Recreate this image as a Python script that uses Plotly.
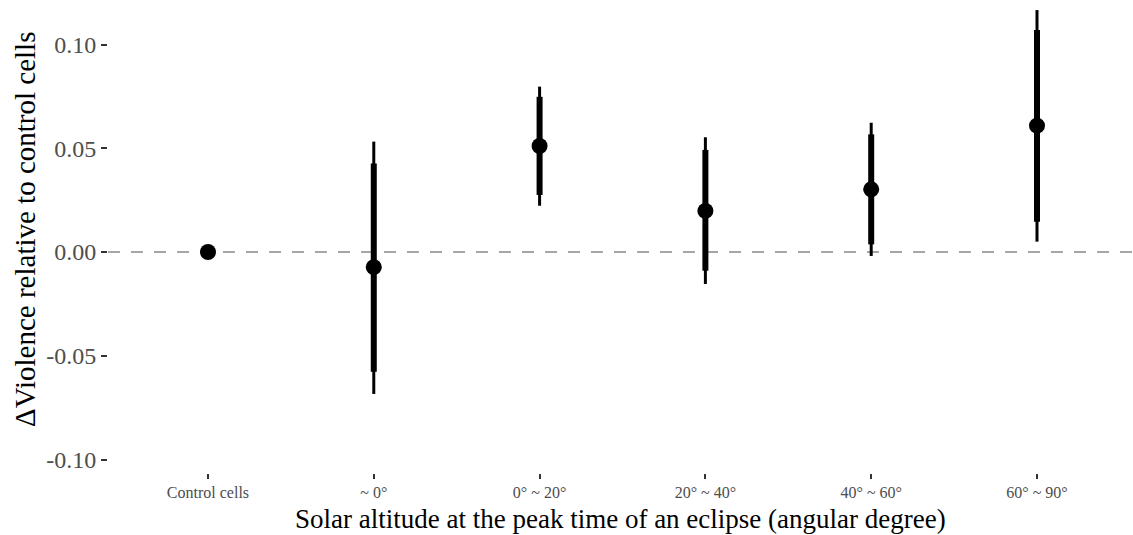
import plotly.graph_objects as go

categories = ["Control cells", "~ 0°", "0° ~ 20°", "20° ~ 40°", "40° ~ 60°", "60° ~ 90°"]
positions = [1, 2, 3, 4, 5, 6]
estimate = [0.0, -0.0073, 0.0511, 0.0198, 0.0302, 0.0609]
ci90_low = [None, -0.0577, 0.0275, -0.0090, 0.0037, 0.0146]
ci90_high = [None, 0.0427, 0.0748, 0.0492, 0.0567, 0.1070]
ci95_low = [None, -0.0684, 0.0223, -0.0154, -0.0019, 0.0050]
ci95_high = [None, 0.0532, 0.0797, 0.0553, 0.0623, 0.1166]
y_ticks = [-0.10, -0.05, 0.00, 0.05, 0.10]
y_ticktext = ["-0.10", "-0.05", "0.00", "0.05", "0.10"]
x_title = "Solar altitude at the peak time of an eclipse (angular degree)"
y_title = "ΔViolence relative to control cells"


def segs(lo, hi):
    xs, ys = [], []
    for p, a, b in zip(positions, lo, hi):
        if a is None:
            continue
        xs += [p, p, None]
        ys += [a, b, None]
    return xs, ys


fig = go.Figure()
fig.add_hline(y=0, line=dict(color="#a6a6a6", width=2, dash="12px,11px"), layer="below")

x95, y95 = segs(ci95_low, ci95_high)
fig.add_trace(go.Scatter(x=x95, y=y95, mode="lines", line=dict(color="black", width=3),
                         showlegend=False, hoverinfo="skip"))
x90, y90 = segs(ci90_low, ci90_high)
fig.add_trace(go.Scatter(x=x90, y=y90, mode="lines", line=dict(color="black", width=6),
                         showlegend=False, hoverinfo="skip"))
fig.add_trace(go.Scatter(x=positions, y=estimate, mode="markers",
                         marker=dict(color="black", size=16), showlegend=False))

font_family = "Liberation Serif"
fig.update_layout(
    width=1133, height=535,
    margin=dict(l=108, r=0, t=0, b=62),
    plot_bgcolor="white", paper_bgcolor="white",
    font=dict(family=font_family, color="black"),
)
fig.update_xaxes(
    range=[0.397, 6.579], tickvals=positions, ticktext=categories,
    ticks="outside", ticklen=5, tickwidth=2, tickcolor="#333333",
    tickfont=dict(size=16, color="#4d4d4d", family=font_family),
    showgrid=False, zeroline=False, showline=False,
)
fig.update_yaxes(
    range=[-0.1065, 0.12145], tickvals=y_ticks, ticktext=y_ticktext,
    ticks="outside", ticklen=6, tickwidth=2, tickcolor="#333333",
    tickfont=dict(size=24, color="#4d4d4d", family=font_family),
    showgrid=False, zeroline=False, showline=False,
)
fig.add_annotation(text=x_title, xref="paper", yref="paper", x=0.5, y=-0.1311,
                   xanchor="center", yanchor="bottom", showarrow=False, borderpad=0,
                   font=dict(size=27, color="black", family=font_family))
fig.add_annotation(text=y_title, xref="paper", yref="paper", x=-0.081, y=0.516,
                   xanchor="center", yanchor="middle", textangle=-90, showarrow=False,
                   font=dict(size=29, color="black", family=font_family))

fig.write_html("out.html")
